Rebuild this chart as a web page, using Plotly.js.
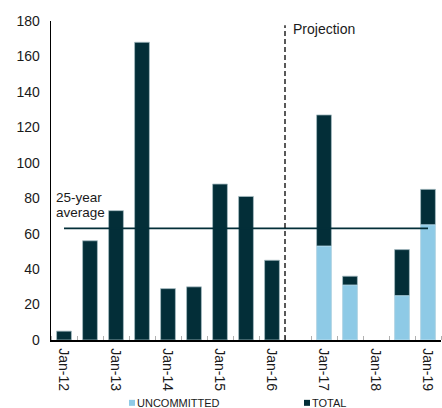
<!DOCTYPE html>
<html>
<head>
<meta charset="utf-8">
<script src="https://cdn.plot.ly/plotly-3.0.1.min.js"></script>
<style>
  html, body { margin: 0; padding: 0; background: #ffffff; }
  #chart { width: 442px; height: 408px; }
</style>
</head>
<body>
<div id="chart"></div>
<script>
// Half-yearly periods; the Jan periods carry the axis labels.
const categories = ['Jan-12', 'Jul-12', 'Jan-13', 'Jul-13', 'Jan-14', 'Jul-14', 'Jan-15', 'Jul-15',
                    'Jan-16', 'Jul-16', 'Jan-17', 'Jul-17', 'Jan-18', 'Jul-18', 'Jan-19'];
const totalValues       = [5, 56, 73, 168, 29, 30, 88, 81, 45, null, 127, 36, null, 51, 85];
const uncommittedValues = [null, null, null, null, null, null, null, null, null, null, 53, 31, null, 25, 65];
const tickLabels = ['Jan-12', 'Jan-13', 'Jan-14', 'Jan-15', 'Jan-16', 'Jan-17', 'Jan-18', 'Jan-19'];
const averageValue = 63;
const projectionStart = 'Jul-16';
const yTicks = [0, 20, 40, 60, 80, 100, 120, 140, 160, 180];

const DARK = '#032e38';
const LIGHT = '#8ecae6';
const FONT = 'Liberation Sans, Arial, Helvetica, sans-serif';
const TEXT = '#1a1a1a';

const xIndex = categories.map((_, i) => i);
const tickIndex = tickLabels.map(t => categories.indexOf(t));
const projX = categories.indexOf(projectionStart) - 0.5;

const traces = [
  {
    type: 'bar', name: 'TOTAL', x: xIndex, y: totalValues,
    marker: { color: DARK, line: { color: '#a7bcc3', width: 0.8 } },
    width: 0.57, hoverinfo: 'skip'
  },
  {
    type: 'bar', name: 'UNCOMMITTED', x: xIndex, y: uncommittedValues,
    marker: { color: LIGHT, line: { color: '#c4e2f0', width: 0.8 } },
    width: 0.57, hoverinfo: 'skip'
  }
];

const layout = {
  width: 442, height: 408,
  margin: { l: 51, r: 1, t: 21, b: 68 },
  paper_bgcolor: '#ffffff', plot_bgcolor: '#ffffff',
  barmode: 'overlay',
  showlegend: false,
  font: { family: FONT, size: 14, color: TEXT },
  xaxis: {
    range: [-0.5, categories.length - 0.5],
    tickmode: 'array', tickvals: tickIndex, ticktext: tickLabels,
    tickangle: 90, ticks: '', ticklabelstandoff: 4,
    showgrid: false, zeroline: false,
    showline: true, linecolor: '#000000', linewidth: 1.5,
    tickfont: { family: FONT, size: 14, color: TEXT },
    minor: { ticks: 'inside', tick0: 0.5, dtick: 1, ticklen: 4, tickcolor: '#b0b0b0', tickwidth: 1, showgrid: false },
    fixedrange: true
  },
  yaxis: {
    range: [0, 180], tickmode: 'array', tickvals: yTicks,
    ticks: '', ticklabelstandoff: 7,
    showgrid: false, zeroline: false,
    showline: true, linecolor: '#000000', linewidth: 1.3,
    tickfont: { family: FONT, size: 14, color: TEXT },
    fixedrange: true
  },
  shapes: [
    // 25-year average
    { type: 'line', xref: 'x', yref: 'y', x0: 0, x1: categories.length - 1, y0: averageValue, y1: averageValue,
      line: { color: DARK, width: 1.6 } },
    // start of projection period
    { type: 'line', xref: 'x', yref: 'paper', x0: projX, x1: projX, y0: 0, y1: 0.987,
      line: { color: '#000000', width: 1.3, dash: '5px,3px' } },
    // legend swatches
    { type: 'rect', xref: 'paper', yref: 'paper', xsizemode: 'pixel', ysizemode: 'pixel',
      xanchor: 0.2, yanchor: -0.197, x0: 0, x1: 6, y0: -3, y1: 3, fillcolor: LIGHT, line: { width: 0 } },
    { type: 'rect', xref: 'paper', yref: 'paper', xsizemode: 'pixel', ysizemode: 'pixel',
      xanchor: 0.6487, yanchor: -0.197, x0: 0, x1: 6, y0: -3, y1: 3, fillcolor: DARK, line: { width: 0 } }
  ],
  annotations: [
    { text: 'Projection', xref: 'x', yref: 'paper', x: projX, xshift: 6, y: 0.975,
      xanchor: 'left', yanchor: 'middle', showarrow: false,
      font: { family: FONT, size: 14, color: TEXT } },
    { text: '25-year', xref: 'paper', yref: 'y', x: 0.011, y: 80.2,
      xanchor: 'left', yanchor: 'middle', showarrow: false, borderpad: 0,
      font: { family: FONT, size: 13.5, color: TEXT } },
    { text: 'average', xref: 'paper', yref: 'y', x: 0.011, y: 71.7,
      xanchor: 'left', yanchor: 'middle', showarrow: false, borderpad: 0,
      font: { family: FONT, size: 13.5, color: TEXT } },
    { text: 'UNCOMMITTED', xref: 'paper', yref: 'paper', x: 0.2, xshift: 7, y: -0.197,
      xanchor: 'left', yanchor: 'middle', showarrow: false, borderpad: 0,
      font: { family: FONT, size: 11, color: TEXT } },
    { text: 'TOTAL', xref: 'paper', yref: 'paper', x: 0.6487, xshift: 7, y: -0.197,
      xanchor: 'left', yanchor: 'middle', showarrow: false, borderpad: 0,
      font: { family: FONT, size: 11, color: TEXT } }
  ]
};

Plotly.newPlot('chart', traces, layout, { displayModeBar: false, staticPlot: true });
</script>
</body>
</html>
